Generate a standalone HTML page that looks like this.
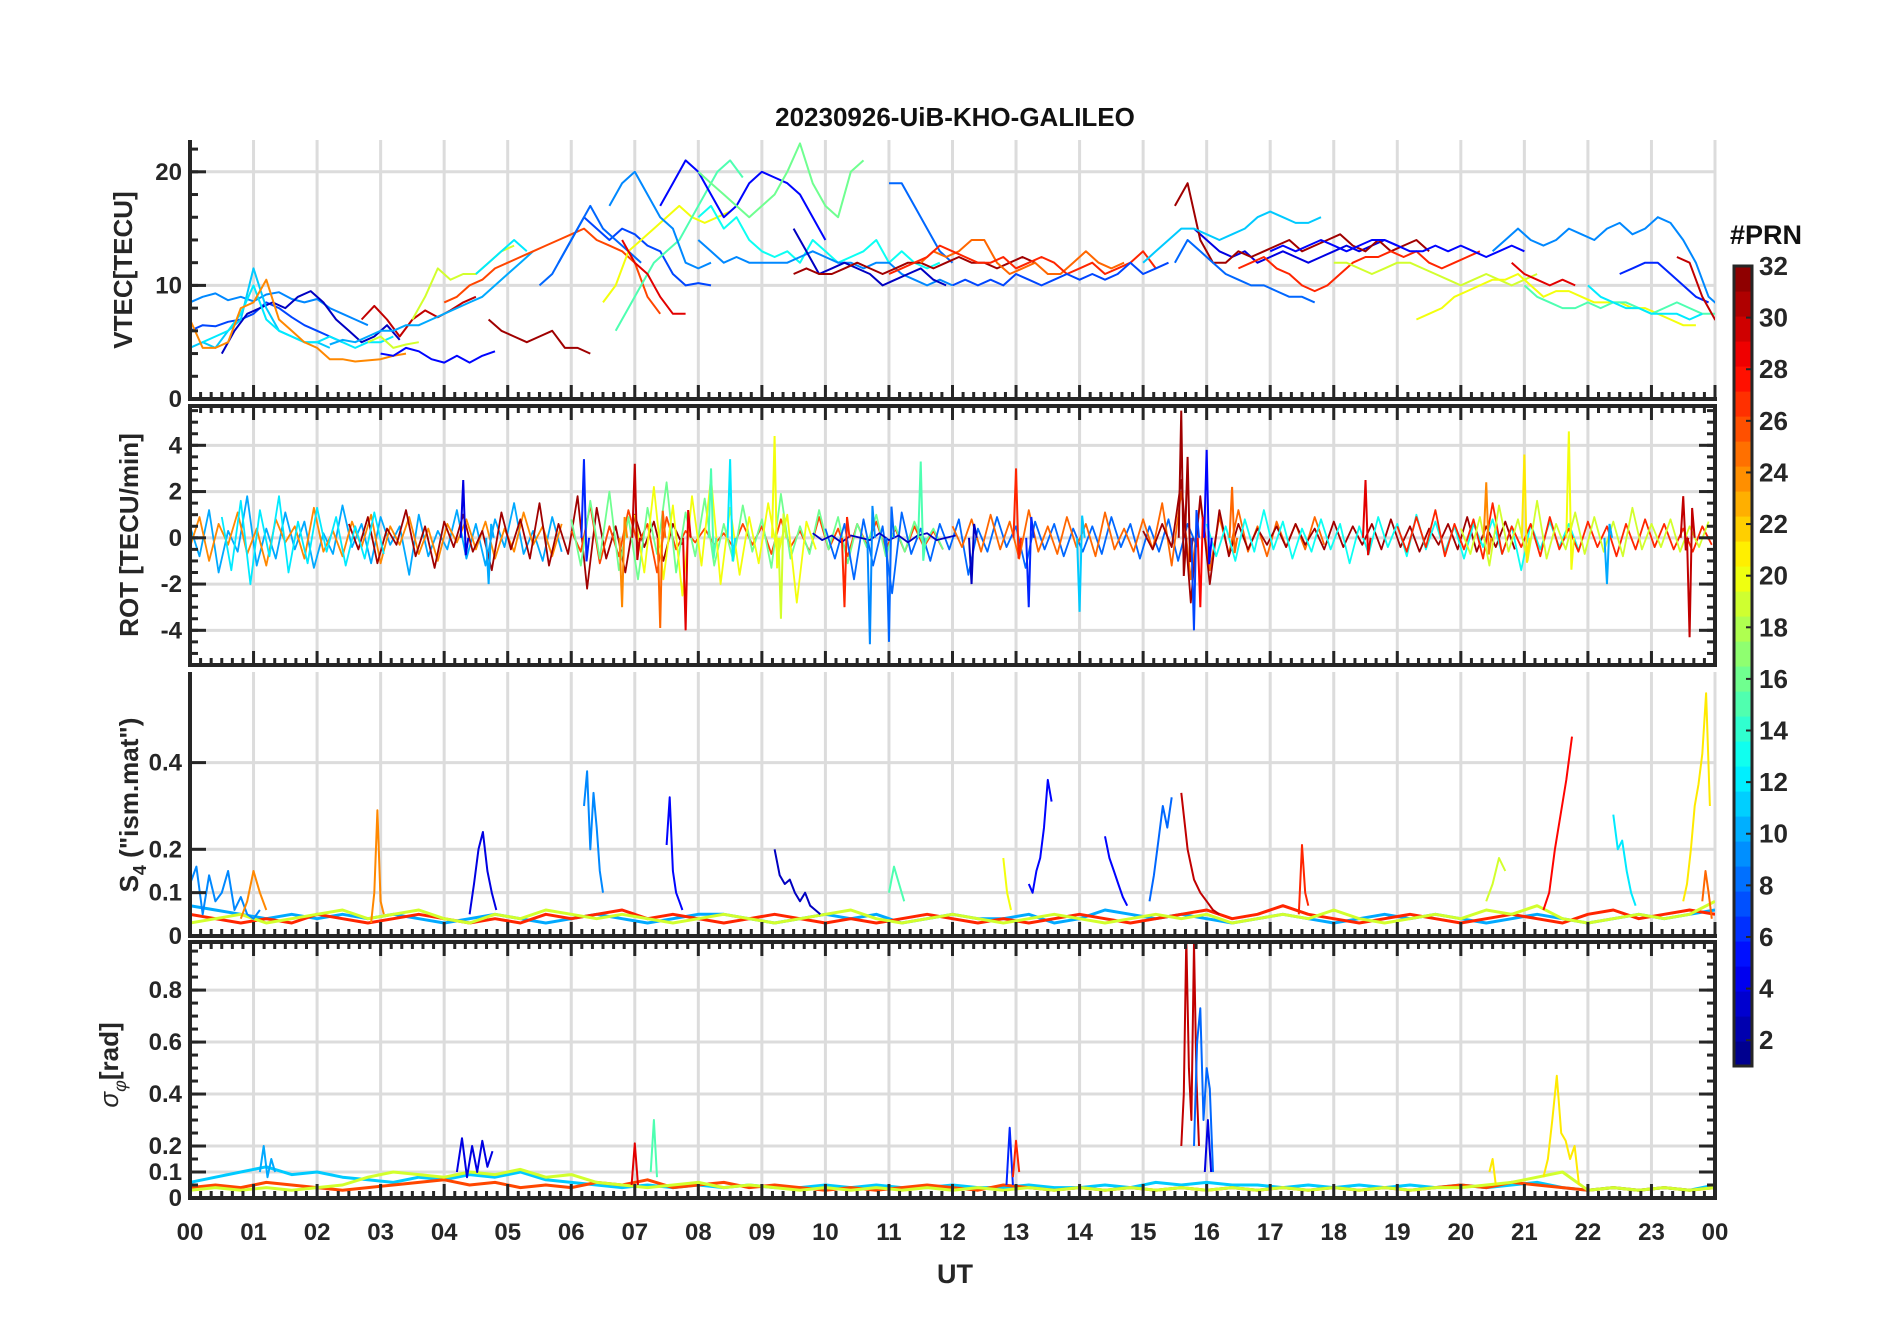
<!DOCTYPE html>
<html><head><meta charset="utf-8"><style>
html,body{margin:0;padding:0;background:#fff;}
svg{display:block;font-family:"Liberation Sans",Arial,sans-serif;}
</style></head><body>
<svg id="chart" width="1902" height="1330" viewBox="0 0 1902 1330" xmlns="http://www.w3.org/2000/svg">
<rect width="1902" height="1330" fill="#fff"/>
<text x="955" y="126" text-anchor="middle" font-size="26" font-weight="bold" fill="#111">20230926-UiB-KHO-GALILEO</text>
<g id="grid"></g><g id="plots"></g><g id="axes"></g>
<text transform="translate(132,270) rotate(-90)" text-anchor="middle" font-size="26" font-weight="bold" fill="#262626">VTEC[TECU]</text>
<text transform="translate(138,535) rotate(-90)" text-anchor="middle" font-size="26" font-weight="bold" fill="#262626">ROT [TECU/min]</text>
<text transform="translate(138,805) rotate(-90)" text-anchor="middle" font-size="26" font-weight="bold" fill="#262626">S<tspan font-size="18" dy="8">4</tspan><tspan dy="-8"> ("ism.mat")</tspan></text>
<text transform="translate(118,1065) rotate(-90)" text-anchor="middle" font-size="26" fill="#262626"><tspan font-style="italic">σ</tspan><tspan font-size="18" dy="8" font-style="italic">φ</tspan><tspan dy="-8" font-weight="bold">[rad]</tspan></text>
<text x="955" y="1283" text-anchor="middle" font-size="27" font-weight="bold" fill="#262626">UT</text>
<text x="1766" y="244" text-anchor="middle" font-size="27" font-weight="bold" fill="#111">#PRN</text>
<g id="cbar"></g>
</svg>
<script>
const hourLabels=["00","01","02","03","04","05","06","07","08","09","10","11","12","13","14","15","16","17","18","19","20","21","22","23","00"];
const prnTicks=[2,4,6,8,10,12,14,16,18,20,22,24,26,28,30,32];
// VTEC series: [prn, startHour, stepHour, values]
const vtecPrn=[9,7,3,11,12,24,30,19,5,10,19,12,26,31,7,8,20,15,9,29,5,16,13,9,3,8,31,25,27,7,4,31,11,8,27,19,20,5,9,15,29,6,30,12];
const vtecStart=[0,0,0.5,0,0.2,0,2.7,2.8,3,2.2,3.5,4.5,4,4.7,5.8,5.5,6.5,6.7,6.6,6.8,7.4,8,8,8,9.5,11,9.5,11.5,11,12,15.8,15.5,15,15.5,16.5,18,19.3,17,20.5,21,20.8,22.5,23.4,22];
const vtecVals=[
[8.5,9,9.3,8.7,9,8.6,9.2,9.4,8.8,8.5,8.8,8,7.5,7,6.5],
[6,6.5,6.4,6.8,7,7.5,8.5,8,7.2,6.5,6,5.5,5],
[4,6,7.5,8,8.5,8,9,9.5,8.5,7,6,5,5.5,6.5,5.2],
[4.5,5,4.5,6,7,11.5,8,6,5.5,5,5,4.5],
[5,5.5,6,7.5,10,7,6,5.5,5,5,5.5,5,4.5,5,5,5.5],
[7,4.5,4.5,5,8,8.5,10.5,7,6,5,4.5,3.5,3.5,3.3,3.4,3.5,3.8,4],
[7,8.2,7,5.5,7,7.8,7.2,7.8,8.5,9],
[5,5.5,4.5,4.8,5],
[4,3.8,4.5,4.2,3.5,3.2,3.8,3.2,3.8,4.2],
[4.8,5.2,5,5.5,6,6,6.5,6.5,7,7.5,8,8.5,9,10,11,12,13],
[7,9,11.5,10.5,11,11,12,13,13.5],
[11,12,13,14,13],
[8.5,9,10,10.5,11.5,12,12.5,13,13.5,14,14.5,15,14,13.5,13,12,9,7.5],
[7,6,5.5,5,5.5,6,4.5,4.5,4],
[12,14,16,15,14,15,14.5,13.5,13,11,10,10.2,10],
[10,11,13,15,17,15,14,13,12],
[8.5,10,13,14,15,16,17,16,15.5,16,16.5],
[6,8,10,12,13,14,16,18,20,21,19.5],
[17,19,20,18,16,15,12,11.5,12],
[14,12,11,9,7.5,7.5],
[17,19,21,20,18,16,17,19,20,19.5,19,18,16,14],
[20,19,18,17,16,17,18,20,22.5,19,17,16,20,21],
[16,17,15,16,14,13,12.5,13,12,14,13,12,12.5,13,14,12,13,12,11.5,12],
[14,13,12,12.5,12,12,12,12,12.5,13,12.5,12,12,11.5,12,12,11,10.5,10,10.5,10],
[15,13,11,11.5,12,11.5,11,10,10.5,11,11.5,10.5,10],
[19,19,17,15,13,12],
[11,11.5,11,11,11.5,12,11.5,11,11.5,12,12,11.5,12,12.5,12,12,11.5,12,12.5,12],
[12,13,12.5,13,14,14,12,11,11.5,12,11,11,12,13,12,11.5,12],
[11,11.5,12,12.5,13.5,13,12.5,12,12,12.5,11.5,12,12.5,12,11,11.5,12,11,11.5,12,13,11.5],
[10,10.5,10,10.5,10,11,10.5,10,10.5,11,10.5,11,10.5,11,12,11,11.5,12],
[15,14,13,12.5,13,12,12.5,13,12.5,12,12.5,13,13.5,13,13.5,14,13.5],
[17,19,14,12,12,13,12.5,13,13.5,14,13,13.5,14,14.5,13.5,13,14,13,13.5,14,13],
[12,13,14,15,15,14.5,14,14.5,15,16,16.5,16,15.5,15.5,16],
[12,14,13,12,11,10.5,10,10,9.5,9,9,8.5],
[11.5,12,12.5,11.5,11,10,9.5,10,11,12,12.5,12.5,13,12.5,13,12,11.5,12,12.5,13],
[12,12,11.5,11,11.5,12,12,11.5,11,10.5,10,10.5,11,10.5,10,10.5,11],
[7,7.5,8,9,9.5,10,10.5,10.5,11,10,9,9.5,9.5,9,8.5,8.5,8.5,8,8,7.5,7,6.5,6.5],
[13,13.5,13,13.5,14,13.5,13,13.5,14,14,13.5,13,13,13.5,13,13.5,13,12.5,13,13.5,13],
[13,14,15,14,13.5,14,15,14.5,14,15,15.5,14.5,15,16,15.5,14,12,9,8,8],
[10,9,8.5,8,8,8.5,8,8.5,8.5,8,7.5,8,8.5,8,7.5,7.5],
[12,11,10.5,10,10.5,10],
[11,11.5,12,12,11,10,9,8.5],
[12.5,12,9,7,6.5,7],
[10,9,8.5,8,8,7.5,7.5,7.5,7,7.5]];
// ROT noise series (step 0.15 h)
const rotPrn=[10,24,31,26,16,20,8,25,31,13,27,19,12,3];
const rotStart=[0,0,2.5,6,6,7,10,12,15,16,19,20,0.5,9.8];
const rotVals=[
[0.5,-0.8,1.2,-1.5,0.3,-0.6,1.8,-1.2,0.4,-0.9,1.1,-0.5,0.7,-1.3,0.2,-0.7,1.4,-0.4,0.6,-1.1,0.9,-0.3,0.5,-1.6,1.0,-0.8,0.3,-0.5,1.2,-0.9,0.6,-1.2,0.8,-0.4,1.5,-0.7,0.3,-1.0,0.9,-0.6],
[-0.4,0.9,-1.0,0.6,-0.3,1.1,-0.7,0.4,-1.2,0.8,-0.2,0.5,-0.9,1.3,-0.6,0.3,-0.8,0.7,-0.4,1.0,-1.1,0.5,-0.3,0.9,-0.7,0.4,-1.0,0.6,-0.2,0.8,-0.5,0.7,-0.9,0.4,-0.6,1.1,-0.3,0.5,-0.8,0.6],
[0.6,-0.5,0.9,-1.1,0.4,-0.3,1.2,-0.8,0.5,-1.3,0.7,-0.4,1.0,-0.6,0.3,-1.4,1.1,-0.5,0.8,-0.9,1.5,-1.2,0.6,-0.7,1.8,-2.2,1.3,-0.9,0.5,-1.5,1.0,-0.4,0.7,-1.0,0.6,-0.3],
[0.3,-0.6,1.4,-1.1,0.5,-0.8,1.2,-0.3,0.6,-1.5,0.9,-0.5,0.3,-0.2,0.4,-0.3,0.2,-0.4,0.6,-0.3,0.5,-0.7,0.8,-0.4,0.3,-0.6,0.9,-0.5,0.4,-0.8,0.6,-0.3,0.7,-0.5,0.4,-0.6,0.5,-0.4,0.3,-0.5],
[0.8,-1.2,1.6,-0.9,2.0,-1.4,0.9,-1.8,1.3,-0.7,2.4,-1.5,1.1,-0.8,1.7,-1.2,0.6,-1.0,1.4,-0.6,0.8,-1.3,1.9,-0.9,0.5,-0.7,1.2,-0.5,0.9,-1.1,0.6,-0.4,1.0,-0.8,0.5,-0.6,0.7,-0.3,0.4,-0.5],
[1.0,-1.5,2.2,-1.8,1.4,-2.5,1.8,-1.2,2.6,-2.0,1.3,-1.6,0.9,-1.1,1.5,-0.8,1.0,-2.8,0.7,-0.5],
[0.4,-0.9,0.6,-1.8,0.8,-1.2,0.5,-2.4,1.1,-0.7,0.4,-1.0,0.6,-0.5,0.8,-1.6,0.4,-0.6,0.9,-0.4,0.5,-1.3,0.7,-0.5,0.6,-0.8,0.4,-0.6,0.5,-0.7,0.9,-0.4,0.6,-0.9,0.5,-0.6,0.8,-1.0,0.6,-0.4],
[0.5,-0.4,0.8,-0.6,1.0,-0.5,0.7,-0.9,1.2,-0.6,0.5,-0.7,0.9,-0.4,0.6,-0.8,1.1,-0.5,0.4,-0.6,0.8,-0.5,1.5,-1.2,2.0,-1.8,1.6,-1.4,0.9,-0.7,1.2,-0.6,0.5,-0.8,0.7,-0.4,0.6,-0.5,0.9,-0.3],
[0.3,-0.5,0.6,-0.4,2.5,-2.8,1.8,-2.0,1.2,-0.8,0.6,-0.5,0.4,-0.3,0.5,-0.4,0.6,-0.3,0.4,-0.5,0.7,-0.4,0.5,-0.3,0.6,-0.5,0.8,-0.4,0.5,-0.6,0.4,-0.3,0.6,-0.5,0.9,-0.6,0.5,-0.4,0.7,-0.5],
[0.6,-0.8,0.5,-1.0,0.8,-0.6,1.2,-0.5,0.7,-0.9,0.4,-0.6,0.8,-0.5,0.6,-1.1,0.5,-0.7,0.9,-0.4,0.6,-0.8,1.0,-0.5,0.7,-0.6,0.5,-0.9,0.6,-0.4,0.8,-0.7,0.5,-1.4,0.6,-0.5,0.7,-0.4,0.6,-0.5],
[0.5,-0.6,0.9,-0.4,1.2,-0.8,0.6,-0.5,0.8,-0.9,1.5,-0.7,0.5,-0.4,0.6,-0.8,0.9,-0.5,0.4,-0.6,0.7,-0.4,0.5,-0.8,0.6,-0.5,0.8,-0.4,0.6,-0.5,0.4,-0.6,0.5,-0.3],
[0.4,-0.7,0.9,-1.2,1.4,-0.6,0.8,-1.0,1.6,-0.9,0.6,-0.5,1.1,-0.7,0.9,-0.6,0.7,-0.8,1.3,-0.5,0.6,-0.4,0.8,-0.6,0.5,-0.4,0.7],
[0.9,-1.4,1.6,-2.0,1.2,-0.8,1.8,-1.5,0.7,-1.1,1.3,-0.6,0.9,-1.2,0.5,-0.9,1.1,-0.7],
[0.2,-0.1,0.1,-0.2,0.1,0.0,-0.1,0.2,-0.1,0.1,-0.2,0.1,0.2,-0.1,0.0,0.1]];
// ROT spikes: time, value, prn
const rotSpikeT=[4.3,4.7,6.2,6.8,7.0,7.4,7.8,8.2,8.5,9.2,9.3,10.3,10.7,11.0,11.5,12.3,13.0,13.2,14.0,15.6,15.7,15.8,15.9,16.0,16.4,18.5,20.4,21.0,21.7,22.3,23.5,23.6];
const rotSpikeV=[2.5,-2,3.4,-3,3.2,-3.9,-4,3,3.4,4.4,-3.5,-3,-4.6,-4.5,3.3,-2,3,-3,-3.2,5.5,3.5,-4,-3,3.8,2.2,2.5,2.4,3.6,4.6,-2,1.8,-4.3];
const rotSpikeP=[4,10,6,24,30,25,29,15,12,20,19,27,9,8,15,3,27,6,11,31,31,7,28,5,25,29,24,21,20,10,30,30];
// S4 baselines (step 0.4 h from 0)
const s4BasePrn=[10,27,19];
const s4BaseVals=[
[0.07,0.06,0.05,0.04,0.05,0.04,0.05,0.04,0.05,0.04,0.03,0.04,0.05,0.04,0.03,0.04,0.05,0.04,0.03,0.04,0.05,0.05,0.04,0.03,0.04,0.05,0.04,0.05,0.03,0.04,0.05,0.04,0.04,0.05,0.03,0.04,0.06,0.05,0.04,0.05,0.04,0.03,0.04,0.05,0.04,0.03,0.04,0.05,0.04,0.05,0.04,0.03,0.04,0.05,0.04,0.03,0.04,0.05,0.04,0.05,0.06],
[0.05,0.04,0.03,0.04,0.03,0.05,0.04,0.03,0.04,0.05,0.04,0.03,0.04,0.03,0.05,0.04,0.05,0.06,0.04,0.05,0.04,0.03,0.04,0.05,0.04,0.03,0.04,0.03,0.04,0.05,0.04,0.03,0.04,0.03,0.04,0.05,0.04,0.03,0.04,0.05,0.06,0.04,0.05,0.07,0.05,0.04,0.03,0.04,0.05,0.04,0.03,0.04,0.05,0.04,0.03,0.05,0.06,0.04,0.05,0.06,0.05],
[0.03,0.04,0.05,0.03,0.04,0.05,0.06,0.04,0.05,0.06,0.04,0.03,0.05,0.04,0.06,0.05,0.04,0.05,0.04,0.03,0.04,0.05,0.04,0.03,0.04,0.05,0.06,0.04,0.03,0.04,0.05,0.04,0.03,0.04,0.05,0.04,0.03,0.04,0.05,0.04,0.05,0.03,0.04,0.05,0.04,0.06,0.04,0.03,0.04,0.05,0.04,0.06,0.05,0.07,0.04,0.03,0.04,0.05,0.04,0.05,0.08]];
// S4 bursts: prn, start, step, values
const s4BurstPrn=[9,24,24,4,9,5,3,15,20,5,5,8,30,27,19,28,12,21,25];
const s4BurstStart=[0,0.8,2.85,4.4,6.2,7.5,9.2,11,12.8,13.2,14.4,15.1,15.6,17.45,20.4,21.3,22.4,23.5,23.8];
const s4BurstStep=[0.1,0.1,0.05,0.07,0.05,0.05,0.08,0.08,0.06,0.06,0.07,0.07,0.1,0.05,0.1,0.09,0.07,0.06,0.05];
const s4BurstVals=[[0.12,0.16,0.05,0.14,0.08,0.1,0.15,0.06,0.09,0.05,0.04,0.06],[0.04,0.08,0.15,0.1,0.06],[0.03,0.1,0.29,0.08,0.05],[0.05,0.12,0.2,0.24,0.15,0.1,0.06],[0.3,0.38,0.2,0.33,0.25,0.15,0.1],[0.21,0.32,0.15,0.1,0.08,0.06],[0.2,0.14,0.12,0.13,0.1,0.08,0.1,0.07,0.06,0.05],[0.1,0.16,0.12,0.08],[0.18,0.1,0.06],[0.12,0.1,0.15,0.18,0.25,0.36,0.31],[0.23,0.18,0.15,0.12,0.09,0.07],[0.08,0.14,0.22,0.3,0.25,0.32],[0.33,0.2,0.13,0.1,0.08,0.06,0.05],[0.05,0.21,0.1,0.07],[0.08,0.12,0.18,0.15],[0.06,0.1,0.2,0.28,0.36,0.46],[0.28,0.2,0.22,0.15,0.1,0.07],[0.08,0.12,0.2,0.3,0.35,0.42,0.56,0.3],[0.08,0.15,0.1,0.04]];
// sigma-phi baselines (step 0.4 h)
const sigBasePrn=[11,26,19];
const sigBaseVals=[
[0.06,0.08,0.1,0.12,0.09,0.1,0.08,0.07,0.06,0.08,0.07,0.09,0.08,0.1,0.07,0.06,0.05,0.04,0.05,0.04,0.05,0.04,0.05,0.04,0.04,0.05,0.04,0.05,0.04,0.04,0.05,0.04,0.04,0.05,0.04,0.04,0.05,0.04,0.06,0.05,0.06,0.05,0.05,0.04,0.05,0.04,0.05,0.04,0.05,0.04,0.05,0.04,0.05,0.06,0.04,0.03,0.04,0.03,0.04,0.03,0.05],
[0.04,0.05,0.04,0.06,0.05,0.04,0.03,0.04,0.05,0.06,0.07,0.05,0.06,0.04,0.05,0.04,0.06,0.05,0.07,0.04,0.05,0.06,0.04,0.05,0.04,0.03,0.04,0.03,0.04,0.05,0.04,0.03,0.05,0.04,0.03,0.04,0.03,0.04,0.03,0.04,0.03,0.04,0.03,0.04,0.03,0.04,0.03,0.04,0.03,0.04,0.05,0.04,0.06,0.05,0.04,0.03,0.04,0.03,0.04,0.03,0.04],
[0.03,0.04,0.03,0.04,0.03,0.04,0.05,0.08,0.1,0.09,0.08,0.1,0.09,0.11,0.08,0.09,0.06,0.05,0.04,0.05,0.06,0.04,0.05,0.04,0.03,0.04,0.03,0.04,0.03,0.04,0.03,0.04,0.03,0.04,0.03,0.04,0.03,0.04,0.03,0.04,0.03,0.04,0.03,0.04,0.03,0.04,0.03,0.04,0.03,0.04,0.04,0.05,0.06,0.08,0.1,0.03,0.04,0.03,0.04,0.03,0.04]];
const sigBurstPrn=[10,4,29,15,6,27,30,8,4,21,21];
const sigBurstStart=[1.1,4.2,6.95,7.25,12.85,12.95,15.6,15.8,15.97,21.3,20.45];
const sigBurstStep=[0.06,0.08,0.05,0.05,0.05,0.05,0.04,0.05,0.05,0.07,0.05];
const sigBurstVals=[[0.1,0.2,0.08,0.15,0.1],[0.1,0.23,0.08,0.2,0.1,0.22,0.12,0.18],[0.05,0.21,0.05],[0.1,0.3,0.08],[0.05,0.27,0.05],[0.08,0.22,0.1],[0.2,0.4,1.0,0.5,0.3,0.98,0.45,0.2],[0.2,0.6,0.73,0.3,0.5,0.42,0.1],[0.1,0.3,0.1],[0.08,0.15,0.3,0.47,0.25,0.22,0.15,0.2,0.05],[0.1,0.15,0.05]];

const NS="http://www.w3.org/2000/svg";
const X0=190,X1=1715;
const xs=t=>X0+(X1-X0)*t/24;
const panels=[
 {name:"vtec",top:140,bottom:399,min:0,max:22.8,major:[0,10,20],labels:["0","10","20"],minor:2,box:false},
 {name:"rot",top:406,bottom:665,min:-5.5,max:5.7,major:[-4,-2,0,2,4],labels:["-4","-2","0","2","4"],minor:0.5,box:true},
 {name:"s4",top:672,bottom:936,min:0,max:0.609,major:[0,0.1,0.2,0.4],labels:["0","0.1","0.2","0.4"],minor:0,box:false},
 {name:"sigma",top:942,bottom:1198,min:0,max:0.985,major:[0,0.1,0.2,0.4,0.6,0.8],labels:["0","0.1","0.2","0.4","0.6","0.8"],minor:0.05,box:true}];
panels.forEach(p=>{p.y=v=>p.bottom-(v-p.min)/(p.max-p.min)*(p.bottom-p.top);});
function jet(prn){const v=(Math.min(32,Math.max(1,prn))-1)/31;const c=x=>Math.round(255*Math.max(0,Math.min(1,1.5-Math.abs(4*v-x))));return `rgb(${c(3)},${c(2)},${c(1)})`;}
function mk(tag,attrs,parent){const e=document.createElementNS(NS,tag);for(const k in attrs)e.setAttribute(k,attrs[k]);parent.appendChild(e);return e;}
const grid=document.getElementById('grid'),plots=document.getElementById('plots'),axes=document.getElementById('axes');
const defs=mk('defs',{},plots);
panels.forEach((p,i)=>{
 const cp=mk('clipPath',{id:'clip'+i},defs);mk('rect',{x:X0,y:p.top,width:X1-X0,height:p.bottom-p.top},cp);
 for(let h=0;h<=24;h++){const g=mk('line',{x1:xs(h),x2:xs(h),y1:p.top,y2:p.bottom,stroke:'#dcdcdc','stroke-width':3},grid);
  
  }
 p.major.forEach(v=>{const g=mk('line',{x1:X0,x2:X1,y1:p.y(v),y2:p.y(v),stroke:'#dcdcdc','stroke-width':3},grid);
  
  });
 p.g=mk('g',{'clip-path':`url(#clip${i})`},plots);
 
 
});
function line(p,prn,t0,dt,vals,w){const pts=vals.map((v,k)=>xs(t0+k*dt).toFixed(1)+','+p.y(v).toFixed(1)).join(' ');
 const e=mk('polyline',{points:pts,fill:'none',stroke:jet(prn),'stroke-width':w||2,'stroke-linejoin':'round'},p.g);
 
 }
// baselines first
s4BaseVals.forEach((vals,i)=>line(panels[2],s4BasePrn[i],0,0.4,vals,3));
sigBaseVals.forEach((vals,i)=>line(panels[3],sigBasePrn[i],0,0.4,vals,3));
vtecVals.forEach((vals,i)=>line(panels[0],vtecPrn[i],vtecStart[i],0.2,vals));
rotVals.forEach((vals,i)=>line(panels[1],rotPrn[i],rotStart[i],0.15,vals,1.8));
rotSpikeT.forEach((t,i)=>{const p=panels[1];const e=mk('polyline',{points:`${xs(t-0.04)},${p.y(0)} ${xs(t)},${p.y(rotSpikeV[i])} ${xs(t+0.04)},${p.y(-rotSpikeV[i]*0.3)} ${xs(t+0.08)},${p.y(0)}`,fill:'none',stroke:jet(rotSpikeP[i]),'stroke-width':2},p.g);
 
 });
s4BurstVals.forEach((vals,i)=>line(panels[2],s4BurstPrn[i],s4BurstStart[i],s4BurstStep[i],vals));
sigBurstVals.forEach((vals,i)=>line(panels[3],sigBurstPrn[i],sigBurstStart[i],sigBurstStep[i],vals));
// axes
const AX='#262626';
panels.forEach((p,i)=>{
 const ax=mk('g',{},axes);
 
 
 mk('line',{x1:X0,x2:X0,y1:p.top,y2:p.bottom+2,stroke:AX,'stroke-width':4},ax);
 mk('line',{x1:X0-2,x2:X1+2,y1:p.bottom,y2:p.bottom,stroke:AX,'stroke-width':4},ax);
 if(p.box){mk('line',{x1:X1,x2:X1,y1:p.top,y2:p.bottom,stroke:AX,'stroke-width':4},ax);
  mk('line',{x1:X0-2,x2:X1+2,y1:p.top,y2:p.top,stroke:AX,'stroke-width':4},ax);}
 for(let m=0;m<=144;m++){const L=(m%6==0)?14:7;const x=xs(m/6);
  mk('line',{x1:x,x2:x,y1:p.bottom,y2:p.bottom-L,stroke:AX,'stroke-width':3},ax);
  if(p.box)mk('line',{x1:x,x2:x,y1:p.top,y2:p.top+L,stroke:AX,'stroke-width':3},ax);}
 if(p.minor){for(let v=Math.ceil(p.min/p.minor)*p.minor;v<=p.max+1e-9;v+=p.minor){const y=p.y(v);
  mk('line',{x1:X0,x2:X0+8,y1:y,y2:y,stroke:AX,'stroke-width':3},ax);
  if(p.box)mk('line',{x1:X1,x2:X1-8,y1:y,y2:y,stroke:AX,'stroke-width':3},ax);}}
 p.major.forEach((v,k)=>{const y=p.y(v);
  mk('line',{x1:X0,x2:X0+16,y1:y,y2:y,stroke:AX,'stroke-width':3},ax);
  if(p.box)mk('line',{x1:X1,x2:X1-16,y1:y,y2:y,stroke:AX,'stroke-width':3},ax);
  const t=mk('text',{x:X0-8,y:y+8,'text-anchor':'end','font-size':24,'font-weight':'bold',fill:AX},ax);t.textContent=p.labels[k];
  
  });
});
hourLabels.forEach((s,h)=>{const t=mk('text',{x:xs(h),y:1240,'text-anchor':'middle','font-size':24,'font-weight':'bold',fill:AX},axes);t.textContent=s;
 
 });
// colorbar
const cb=document.getElementById('cbar');const CT=266,CB=1066,CX=1734,CW=18;
const cy=v=>CB-(v-1)/31*(CB-CT);
for(let k=1;k<=32;k++){const y1=CB-(k)/32*(CB-CT),y0=CB-(k-1)/32*(CB-CT);
 const r=mk('rect',{x:CX,y:y1,width:CW,height:y0-y1+0.6,fill:jet(1+(k-0.5)*31/32)},cb);
 
 }
mk('rect',{x:CX,y:CT,width:CW,height:CB-CT,fill:'none',stroke:AX,'stroke-width':3},cb);
prnTicks.forEach(v=>{const y=cy(v);mk('line',{x1:CX+CW-6,x2:CX+CW,y1:y,y2:y,stroke:AX,'stroke-width':2},cb);
 const t=mk('text',{x:CX+CW+7,y:y+9,'font-size':26,'font-weight':'bold',fill:AX},cb);t.textContent=v;
 
 });
</script>
</body></html>
